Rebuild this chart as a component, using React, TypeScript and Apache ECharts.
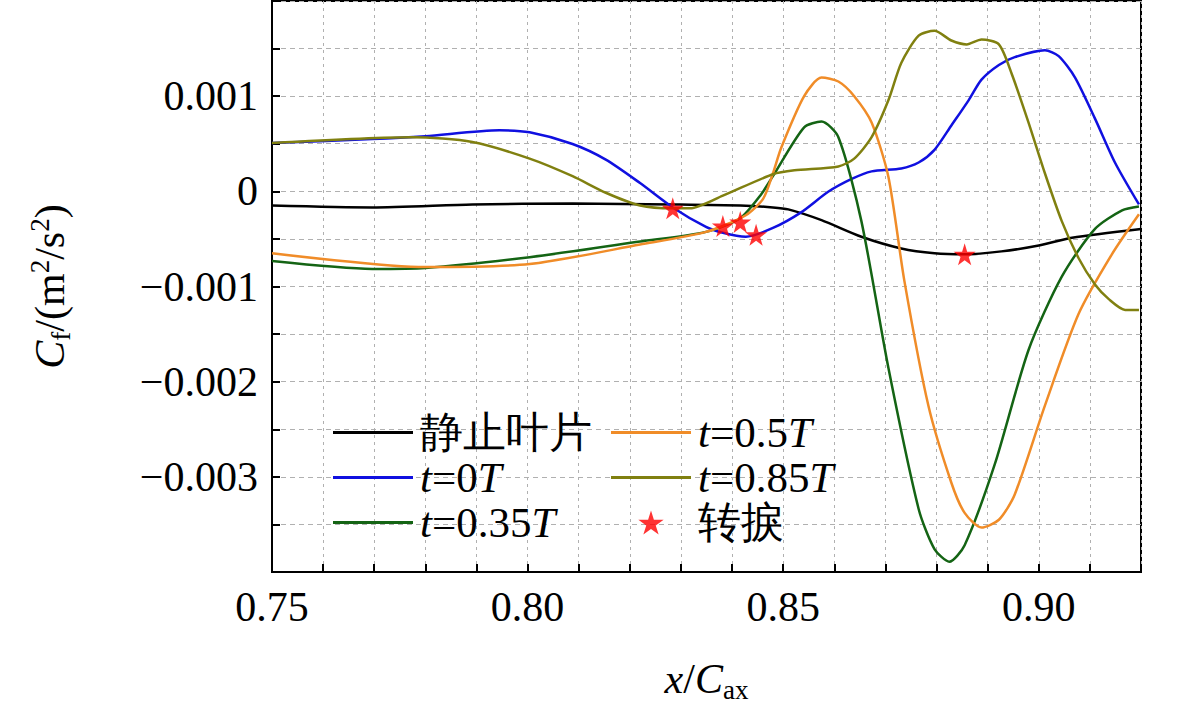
import React, { useEffect, useRef } from "react";
import * as echarts from "echarts";

const blackX = [0.75, 0.7696, 0.7892, 0.8088, 0.8284, 0.8416, 0.848, 0.851, 0.8575, 0.8653, 0.8731, 0.8796, 0.8855, 0.8927, 0.9, 0.9065, 0.92];
const blackY = [-0.000149, -0.000169, -0.000138, -0.000128, -0.000138, -0.000149, -0.000169, -0.00019, -0.000303, -0.000477, -0.0006, -0.000651, -0.000662, -0.000631, -0.000569, -0.000487, -0.000395];

const blueX = [0.75, 0.7696, 0.78, 0.7945, 0.8004, 0.8088, 0.8153, 0.822, 0.8284, 0.8349, 0.8382, 0.8427, 0.848, 0.8535, 0.8588, 0.8633, 0.8673, 0.8731, 0.8765, 0.8796, 0.8829, 0.8863, 0.8888, 0.8922, 0.8953, 0.9012, 0.9039, 0.9071, 0.911, 0.9149, 0.9196];
const blueY = [0.000508, 0.000549, 0.00058, 0.000641, 0.00062, 0.000497, 0.000333, 0.000087, -0.000169, -0.000374, -0.000436, -0.000477, -0.000385, -0.000221, -0.000005, 0.000128, 0.00021, 0.000241, 0.000303, 0.000436, 0.000692, 0.000959, 0.001174, 0.001328, 0.00141, 0.001482, 0.00142, 0.001195, 0.000764, 0.000303, -0.000138];

const greenX = [0.75, 0.7696, 0.78, 0.8004, 0.822, 0.8349, 0.8416, 0.8455, 0.848, 0.8541, 0.8575, 0.8608, 0.8653, 0.8706, 0.8765, 0.8796, 0.8825, 0.8855, 0.8914, 0.898, 0.9045, 0.911, 0.9163, 0.9196];
const greenY = [-0.000733, -0.000815, -0.000805, -0.000692, -0.000528, -0.000426, -0.000282, -0.000046, 0.00016, 0.000672, 0.000733, 0.000569, -0.000313, -0.00186, -0.003338, -0.003759, -0.003892, -0.003718, -0.002867, -0.001667, -0.000897, -0.000395, -0.0002, -0.000159];

const orangeX = [0.75, 0.78, 0.8004, 0.822, 0.8349, 0.8427, 0.8461, 0.848, 0.8496, 0.8541, 0.8575, 0.8608, 0.8639, 0.8673, 0.8706, 0.8737, 0.8784, 0.8829, 0.8855, 0.8888, 0.8922, 0.8953, 0.9012, 0.9078, 0.9143, 0.9196];
const orangeY = [-0.000651, -0.000795, -0.000764, -0.000559, -0.000426, -0.000251, -0.000077, 0.00019, 0.000456, 0.001, 0.001195, 0.001154, 0.001, 0.000723, 0.000149, -0.000938, -0.002251, -0.003062, -0.003379, -0.003533, -0.003451, -0.003185, -0.002251, -0.001287, -0.000662, -0.000241];

const oliveX = [0.75, 0.7775, 0.7892, 0.8004, 0.8088, 0.8153, 0.822, 0.8284, 0.8318, 0.8382, 0.848, 0.8522, 0.8608, 0.8639, 0.8673, 0.8706, 0.8731, 0.8765, 0.8796, 0.8829, 0.8859, 0.8888, 0.8922, 0.8947, 0.898, 0.9012, 0.9045, 0.9078, 0.911, 0.9137, 0.9169, 0.9196];
const oliveY = [0.000508, 0.000569, 0.000518, 0.000344, 0.000159, -0.000015, -0.000149, -0.000179, -0.000179, -0.000046, 0.00018, 0.000221, 0.000262, 0.000344, 0.000569, 0.000959, 0.001349, 0.001636, 0.001687, 0.001585, 0.001544, 0.001595, 0.001544, 0.001236, 0.000723, 0.00019, -0.000313, -0.000703, -0.000979, -0.001133, -0.001246, -0.001246];

const starX = [0.8284, 0.8382, 0.8416, 0.8447, 0.8855];
const starY = [-0.000179, -0.000364, -0.000323, -0.000456, -0.000662];

const xTickLabels = ["0.75", "0.80", "0.85", "0.90"];
const yTickLabels = ["0.001", "0", "\u22120.001", "\u22120.002", "\u22120.003"];

const zip = (xs: number[], ys: number[]) => xs.map((x, i) => [x, ys[i]]);
const FONT = "Liberation Serif";
const STAR = "path://M50,0 L61,35 L98,35 L68,57 L79,91 L50,70 L21,91 L32,57 L2,35 L39,35 Z";
const names = ["静止叶片", "t=0T", "t=0.35T", "t=0.5T", "t=0.85T", "转捩"];

export default function App() {
  const ref = useRef<HTMLDivElement>(null);
  useEffect(() => {
    const chart = echarts.init(ref.current!, undefined, { renderer: "svg" });
    const line = (name: string, xs: number[], ys: number[], color: string) => ({
      name, type: "line", data: zip(xs, ys), smooth: 0.25, showSymbol: false, symbol: "none",
      lineStyle: { color, width: 2.5 }, itemStyle: { color },
    });
    const legendCommon = {
      orient: "vertical", itemWidth: 80, itemHeight: 24, itemGap: 0, padding: 0,
      textStyle: { fontFamily: FONT, fontSize: 43, lineHeight: 45, height: 45, color: "#000", padding: [0, 0, 0, 2], rich: { i: { fontStyle: "italic", fontFamily: FONT, fontSize: 43, lineHeight: 45 } } },
      formatter: (n: string) => n.startsWith("t=") ? `{i|t}=${n.slice(2, -1)}{i|T}` : n,
    };
    const lineIcon = "path://M0,0 L80,0 L80,3 L0,3 Z";
    const fmtY = (v: number) => {
      const k = Math.round(v * 10000);
      if (k % 10 !== 0 || k <= -40 || k >= 20) return "";
      return yTickLabels[1 - k / 10];
    };
    const fmtX = (v: number) => {
      const k = Math.round(v * 100);
      if (k % 5 !== 0 || k > 90) return "";
      return xTickLabels[(k - 75) / 5];
    };
    chart.setOption({
      animation: false,
      grid: { left: 272, right: 40, top: 1, bottom: 122, show: true, borderColor: "#000", borderWidth: 2 },
      legend: [
        { ...legendCommon, left: 333, top: 410, data: [names[0], names[1], names[2]].map(n => ({ name: n, icon: lineIcon })) },
        { ...legendCommon, left: 611, top: 410, data: [{ name: names[3], icon: lineIcon }, { name: names[4], icon: lineIcon }, { name: names[5], icon: STAR }] },
      ],
      xAxis: {
        type: "value", min: 0.75, max: 0.92, interval: 0.01,
        name: "{i|x}/{i|C}{sub|ax}", nameLocation: "middle", nameGap: 82,
        nameTextStyle: { fontFamily: FONT, fontSize: 42, color: "#000", rich: { i: { fontStyle: "italic", fontFamily: FONT, fontSize: 42 }, sub: { fontFamily: FONT, fontSize: 27, padding: [22, 0, 0, 0] } } },
        axisLine: { onZero: false, lineStyle: { color: "#000", width: 2 } },
        axisTick: { inside: true, length: 8, lineStyle: { color: "#000", width: 2 } },
        axisLabel: { fontFamily: FONT, fontSize: 42, color: "#000", margin: 14, formatter: fmtX },
        splitLine: { show: true, lineStyle: { color: "#b0b0b0", type: [3, 4], width: 1 } },
      },
      yAxis: {
        type: "value", min: -0.004, max: 0.002, interval: 0.0005,
        name: "{i|C}{sub|f}/(m{sup|2}/s{sup|2})", nameLocation: "middle", nameGap: 198, nameRotate: 90,
        nameTextStyle: { fontFamily: FONT, fontSize: 42, color: "#000", rich: { i: { fontStyle: "italic", fontFamily: FONT, fontSize: 42 }, sub: { fontFamily: FONT, fontSize: 27, padding: [22, 0, 0, 0] }, sup: { fontFamily: FONT, fontSize: 27, padding: [0, 0, 20, 0] } } },
        axisLine: { onZero: false, lineStyle: { color: "#000", width: 2 } },
        axisTick: { inside: true, length: 8, lineStyle: { color: "#000", width: 2 } },
        axisLabel: { fontFamily: FONT, fontSize: 42, color: "#000", margin: 14, formatter: fmtY },
        splitLine: { show: true, lineStyle: { color: "#b0b0b0", type: [5, 4], width: 1 } },
      },
      series: [
        line(names[0], blackX, blackY, "#000000"),
        line(names[1], blueX, blueY, "#1010e0"),
        line(names[2], greenX, greenY, "#146414"),
        line(names[3], orangeX, orangeY, "#f08c28"),
        line(names[4], oliveX, oliveY, "#808010"),
        { name: names[5], type: "scatter", data: zip(starX, starY), symbol: STAR, symbolSize: 22, itemStyle: { color: "#ff0000" }, z: 5 },
      ],
    });
    return () => chart.dispose();
  }, []);
  return <div ref={ref} style={{ width: 1181, height: 708, position: "absolute", left: 0, top: 0 }} />;
}
